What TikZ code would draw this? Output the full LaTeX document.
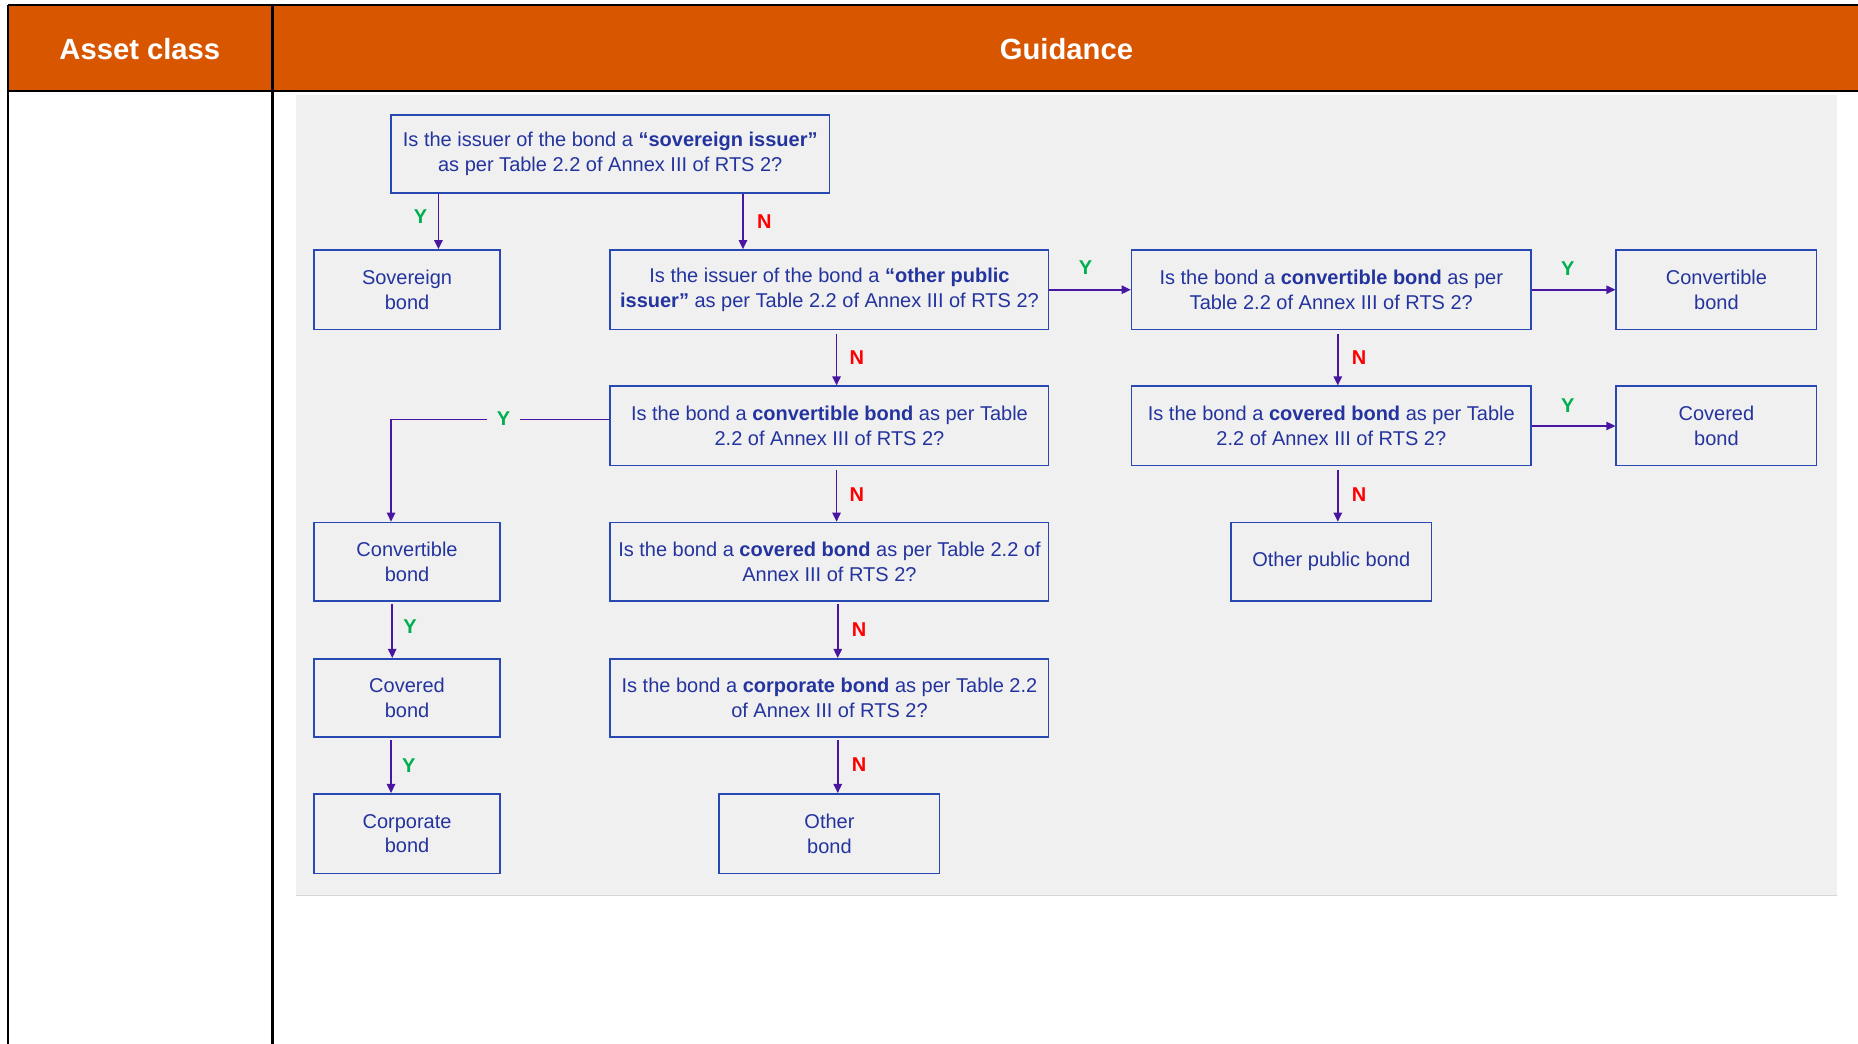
\documentclass[tikz,border=0pt]{standalone}
\usepackage{fontspec}
\setmainfont{Liberation Sans}
\usetikzlibrary{arrows.meta}
\definecolor{hdrc}{RGB}{217,86,0}
\definecolor{panelc}{RGB}{240,240,240}
\definecolor{panelline}{RGB}{215,215,215}
\definecolor{boxc}{RGB}{40,72,180}
\definecolor{txtc}{RGB}{36,52,158}
\definecolor{arrc}{RGB}{72,22,160}
\definecolor{yesc}{RGB}{0,176,80}
\definecolor{noc}{RGB}{255,0,0}
\begin{document}
\begin{tikzpicture}[x=0.5925pt,y=-0.5925pt,
  qbox/.style 2 args={draw=boxc, line width=0.8pt, minimum width=#1*0.5925pt,
     minimum height=#2*0.5925pt, inner sep=0pt, align=center, text=txtc,
     font=\fontsize{10pt}{12.4pt}\selectfont},
  arr/.style={draw=arrc, line width=0.8pt, -{Triangle[length=4.6pt,width=4.2pt]}},
  ylab/.style={text=yesc, font=\fontsize{10pt}{12pt}\selectfont\bfseries, inner sep=1pt},
  nlab/.style={text=noc, font=\fontsize{10pt}{12pt}\selectfont\bfseries, inner sep=1pt},
  hdrtxt/.style={text=white, font=\fontsize{14.6pt}{17pt}\selectfont\bfseries},
  tline/.style={draw=black, line width=1.2pt}]
\useasboundingbox (0,0) rectangle (1568,881);
% header
\fill[hdrc] (7,4) rectangle (1568,77);
\fill[panelc] (250,80) rectangle (1550,756);
\draw[panelline, line width=0.6pt] (250,756) -- (1550,756);
\draw[tline] (7,4) -- (1568,4);
\draw[tline] (7,77) -- (1568,77);
\draw[tline] (7,4) -- (7,881);
\draw[tline] (230,4) -- (230,881);
\node[hdrtxt] (hA) at (118,41) {Asset class};
\node[hdrtxt] (hG) at (900,41) {Guidance};
% boxes
\node[qbox={370}{66}] (q1) at (515,130) {Is the issuer of the bond a \textbf{“sovereign issuer”}\\as per Table 2.2 of Annex III of RTS 2?};
\node[qbox={157}{67}] (sov) at (343.5,244.5) {Sovereign\\bond};
\node[qbox={370}{67}] (q2) at (700,244.5) {Is the issuer of the bond a \textbf{“other public}\\\textbf{issuer”} as per Table 2.2 of Annex III of RTS 2?};
\node[qbox={337}{67}] (q3) at (1123.5,244.5) {Is the bond a \textbf{convertible bond} as per\\Table 2.2 of Annex III of RTS 2?};
\node[qbox={169}{67}] (cvR) at (1448.5,244.5) {Convertible\\bond};
\node[qbox={370}{67}] (q4) at (700,359.5) {Is the bond a \textbf{convertible bond} as per Table\\2.2 of Annex III of RTS 2?};
\node[qbox={337}{67}] (q5) at (1123.5,359.5) {Is the bond a \textbf{covered bond} as per Table\\2.2 of Annex III of RTS 2?};
\node[qbox={169}{67}] (covR) at (1448.5,359.5) {Covered\\bond};
\node[qbox={157}{66}] (cvL) at (343.5,474) {Convertible\\bond};
\node[qbox={370}{66}] (q6) at (700,474) {Is the bond a \textbf{covered bond} as per Table 2.2 of\\Annex III of RTS 2?};
\node[qbox={169}{66}] (opb) at (1123.5,474) {Other public bond};
\node[qbox={157}{66}] (covL) at (343.5,589) {Covered\\bond};
\node[qbox={370}{66}] (q7) at (700,589) {Is the bond a \textbf{corporate bond} as per Table 2.2\\of Annex III of RTS 2?};
\node[qbox={157}{67}] (corp) at (343.5,703.5) {Corporate\\bond};
\node[qbox={186}{67}] (oth) at (700,703.5) {Other\\bond};
% helper coordinates
\coordinate (xa) at (370,0);
\coordinate (xb) at (627,0);
\coordinate (xc) at (706,0);
\coordinate (xd) at (1129,0);
\coordinate (xe) at (331,0);
\coordinate (xf) at (707,0);
\coordinate (xg) at (330,0);
\coordinate (yr) at (0,354);
% connectors
\draw[arr] (q1.south -| xa) -- (sov.north -| xa);
\draw[arr] (q1.south -| xb) -- (q2.north -| xb);
\draw[arr] (q2.east) -- (q3.west);
\draw[arr] (q3.east) -- (cvR.west);
\draw[arr] ([yshift=-2pt]q2.south -| xc) -- (q4.north -| xc);
\draw[arr] ([yshift=-2pt]q3.south -| xd) -- (q5.north -| xd);
\draw[arr] (q5.east) -- (covR.west);
\draw[arr] (q4.west |- yr) -| (cvL.north -| xg);
\draw[arr] ([yshift=-2pt]q4.south -| xc) -- (q6.north -| xc);
\draw[arr] ([yshift=-2pt]q5.south -| xd) -- (opb.north -| xd);
\draw[arr] ([yshift=-1pt]cvL.south -| xe) -- (covL.north -| xe);
\draw[arr] ([yshift=-1pt]q6.south -| xf) -- (q7.north -| xf);
\draw[arr] ([yshift=-1pt]covL.south -| xg) -- (corp.north -| xg);
\draw[arr] ([yshift=-1pt]q7.south -| xf) -- (oth.north -| xf);
% labels
\node[ylab] (l1) at (355,183) {Y};
\node[nlab] (l2) at (645,187) {N};
\node[ylab] (l3) at (916,226) {Y};
\node[ylab] (l4) at (1323,227) {Y};
\node[nlab] (l5) at (723,302) {N};
\node[nlab] (l6) at (1147,302) {N};
\node[ylab] (l7) at (1323,342) {Y};
\node[ylab, fill=panelc, inner xsep=5pt] (l8) at (425,353) {Y};
\node[nlab] (l9) at (723,417) {N};
\node[nlab] (l10) at (1147,417) {N};
\node[ylab] (l11) at (346,529) {Y};
\node[nlab] (l12) at (725,531) {N};
\node[ylab] (l13) at (345,646) {Y};
\node[nlab] (l14) at (725,645) {N};
\end{tikzpicture}
\end{document}
